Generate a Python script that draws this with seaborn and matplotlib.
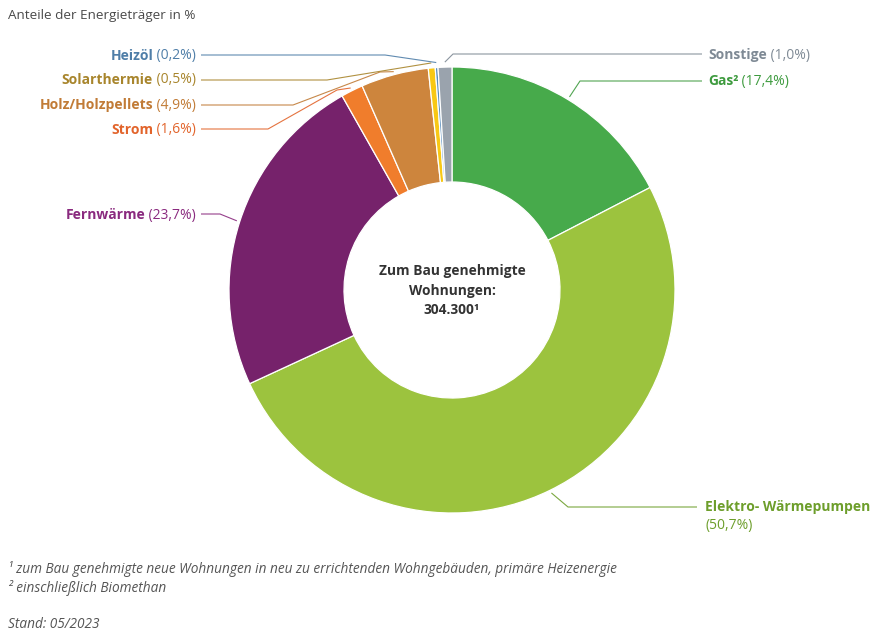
import matplotlib
matplotlib.use("Agg")
import matplotlib.pyplot as plt
import numpy as np
import seaborn as sns

# Energy sources for heating in newly approved dwellings (share in %)
names = ["Gas²", "Elektro- Wärmepumpen", "Fernwärme", "Strom",
         "Holz/Holzpellets", "Solarthermie", "Heizöl", "Sonstige"]
shares = [17.4, 50.7, 23.7, 1.6, 4.9, 0.5, 0.2, 1.0]
value_labels = ["(17,4%)", "(50,7%)", "(23,7%)", "(1,6%)",
                "(4,9%)", "(0,5%)", "(0,2%)", "(1,0%)"]
wedge_colors = ["#47aa4b", "#9cc33e", "#76226b", "#f07d2c",
                "#cd853d", "#f8c814", "#5a8ebd", "#9aa3ad"]
text_colors = ["#3e9b3f", "#6d9e2b", "#8a2a7f", "#e2642b",
               "#c17b36", "#a8852c", "#4f7ea8", "#7f8a95"]
center_lines = ["Zum Bau genehmigte", "Wohnungen:", "304.300¹"]
title = "Anteile der Energieträger in %"
footnotes = ["¹ zum Bau genehmigte neue Wohnungen in neu zu errichtenden Wohngebäuden, primäre Heizenergie",
             "² einschließlich Biomethan"]
stand = "Stand: 05/2023"

sns.set_theme(style="white")
plt.rcParams["font.family"] = ["Open Sans", "DejaVu Sans"]

W, H = 875, 636
fig = plt.figure(figsize=(W / 100, H / 100), dpi=100)
ax = fig.add_axes([0, 0, 1, 1])


def py(y):
    """Convert a top-down pixel row into the axes' y coordinate."""
    return H - y


cx, cy = 452, py(290)
R_OUT, R_IN = 223, 108

wedges, _ = ax.pie(shares, colors=wedge_colors, startangle=90, counterclock=False,
                   center=(cx, cy), radius=R_OUT,
                   wedgeprops=dict(width=R_OUT - R_IN, edgecolor="white", linewidth=0.9))

ax.set_xlim(0, W)
ax.set_ylim(0, H)
ax.set_aspect("equal")
ax.axis("off")


def anchor(i, r=226):
    w = wedges[i]
    a = np.deg2rad((w.theta1 + w.theta2) / 2)
    return cx + r * np.cos(a), cy + r * np.sin(a)


# label layout: (side, text x, text y, leader bend points in pixel coords)
layout = {
    0: ("right", 708, 81, [(702, 81), (580, 81)]),
    1: ("right", 705, 507, [(697, 507), (568, 507)]),
    2: ("left", 196, 215, [(201, 214), (220, 214)]),
    3: ("left", 196, 130, [(201, 129), (268, 129), (337, 90)]),
    4: ("left", 196, 105, [(201, 105), (293, 105), (380, 72)]),
    5: ("left", 196, 80, [(201, 80), (327, 80)]),
    6: ("left", 196, 56, [(201, 55), (385, 55)]),
    7: ("right", 708, 55, [(702, 54), (453, 54)]),
}

renderer = fig.canvas.get_renderer()
FS = 10

for i, (side, tx, ty, bends) in layout.items():
    col = text_colors[i]
    xs = [p[0] for p in bends]
    ys = [py(p[1]) for p in bends]
    ax_, ay_ = anchor(i, 228 if i in (5, 6, 7) else 226)
    xs.append(ax_)
    ys.append(ay_)
    ax.plot(xs, ys, color=col, lw=0.8, alpha=0.9, solid_capstyle="butt")

    if side == "left":
        t_val = ax.text(tx, py(ty), " " + value_labels[i], ha="right", va="center",
                        fontsize=FS, color=col)
        bb = t_val.get_window_extent(renderer)
        ax.text(tx - bb.width, py(ty), names[i], ha="right", va="center",
                fontsize=FS, color=col, fontweight="bold")
    elif i == 1:
        ax.text(tx, py(ty), names[i], ha="left", va="center",
                fontsize=FS, color=col, fontweight="bold")
        ax.text(tx, py(ty + 18), value_labels[i], ha="left", va="center",
                fontsize=FS, color=col)
    else:
        t_name = ax.text(tx, py(ty), names[i], ha="left", va="center",
                         fontsize=FS, color=col, fontweight="bold")
        bb = t_name.get_window_extent(renderer)
        ax.text(tx + bb.width, py(ty), " " + value_labels[i], ha="left", va="center",
                fontsize=FS, color=col)

# text in the hole of the donut
for k, line in enumerate(center_lines):
    ax.text(cx, py(271 + 19.5 * k), line, ha="center", va="center",
            fontsize=9.9, fontweight="bold", color="#333333")

ax.text(8, py(15), title, ha="left", va="center", fontsize=9.7, color="#4a4a4a")
ax.text(8, py(569), footnotes[0], ha="left", va="center", fontsize=9.8,
        style="italic", color="#555555")
ax.text(8, py(588), footnotes[1], ha="left", va="center", fontsize=9.8,
        style="italic", color="#555555")
ax.text(8, py(625), stand, ha="left", va="center", fontsize=9.8,
        style="italic", color="#555555")

fig.savefig("out.png", dpi=100, facecolor="white")
